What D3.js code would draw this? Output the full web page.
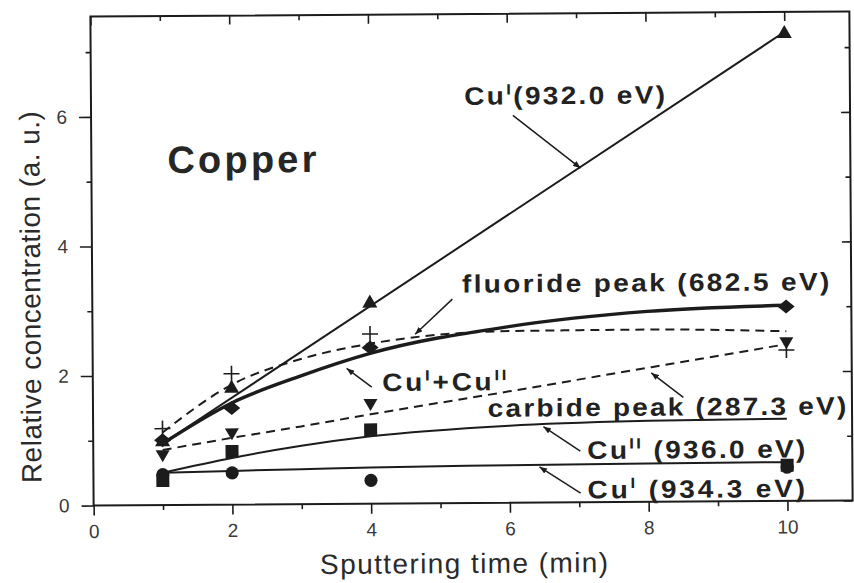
<!DOCTYPE html>
<html><head><meta charset="utf-8">
<script src="https://cdn.jsdelivr.net/npm/d3@7"></script>
<style>body{margin:0;background:#fff}svg{display:block}</style>
</head><body><svg id="c" width="854" height="583"></svg>
<script>
// ---- measured data ----
const times = [1, 2, 4, 10];
const cuI932 = [1.0, 1.82, 3.12, 7.24];      // up triangles
const fluoride = [1.0, 1.49, 2.41, 3.0];     // diamonds
const cuSum = [1.18, 2.02, 2.62, 2.33];      // crosses
const carbide = [0.77, 1.1, 1.54, 2.45];     // down triangles
const cuII936 = [0.38, 0.82, 1.14, 0.55];    // squares
const cuI934 = [0.47, 0.49, 0.36, 0.52];     // circles

// fitted curves
const lineTimes = [1, 10];
const fitCuI932 = [0.95, 7.24];
const fitTimes = [1, 2, 3, 4, 6, 8, 10];
const fitFluoride = [0.95, 1.57, 1.98, 2.32, 2.72, 2.94, 3.02];
const fitCuSum = [1.12, 1.85, 2.24, 2.47, 2.65, 2.66, 2.62];
const fitCarbide = [0.85, 1.03, 1.2, 1.38, 1.72, 2.07, 2.42];
const fitCuII = [0.5, 0.72, 0.9, 1.04, 1.19, 1.25, 1.27];
const fitCuI = [0.5, 0.52, 0.54, 0.56, 0.58, 0.59, 0.6];

const xMajor = [0, 2, 4, 6, 8, 10];
const xMinor = [1, 3, 5, 7, 9];
const yMajor = [0, 2, 4, 6];
const yMinor = [1, 3, 5, 7];

const xTitle = "Sputtering time (min)";
const yTitle = "Relative concentration (a. u.)";

// ---- layout ----
const root = d3.select("#c");
root.append("rect").attr("width", 854).attr("height", 583).attr("fill", "#fff");
const svg = root.append("g").attr("transform", "rotate(-0.38,471,258)");
const L = 92, R = 851, T = 14, B = 503;
const x = d3.scaleLinear().domain([0, 10.94]).range([L, R]);
const y = d3.scaleLinear().domain([0, 7.55]).range([B, T]);
const ink = "#1c1c1c";
const font = "'Liberation Sans', Arial, Helvetica, sans-serif";

function styleAxis(g) {
  g.select(".domain").remove();
  g.selectAll("line").attr("stroke", ink).attr("stroke-width", 1.6);
  g.selectAll("text").attr("fill", "#3a3a3a").style("font-family", font).style("font-size", "19px");
}
// bottom
svg.append("g").attr("transform", `translate(0,${B})`)
  .call(d3.axisBottom(x).tickValues(xMajor).tickSize(10).tickPadding(9).tickFormat(d3.format("d"))).call(styleAxis);
svg.append("g").attr("transform", `translate(0,${B})`)
  .call(d3.axisBottom(x).tickValues(xMinor).tickSize(5).tickFormat("")).call(styleAxis);
// top (inward)
svg.append("g").attr("transform", `translate(0,${T})`)
  .call(d3.axisTop(x).tickValues(xMajor).tickSize(-9).tickFormat("")).call(styleAxis);
svg.append("g").attr("transform", `translate(0,${T})`)
  .call(d3.axisTop(x).tickValues(xMinor).tickSize(-5).tickFormat("")).call(styleAxis);
// left
svg.append("g").attr("transform", `translate(${L},0)`)
  .call(d3.axisLeft(y).tickValues(yMajor).tickSize(12).tickPadding(12).tickFormat(d3.format("d"))).call(styleAxis);
svg.append("g").attr("transform", `translate(${L},0)`)
  .call(d3.axisLeft(y).tickValues(yMinor).tickSize(5).tickFormat("")).call(styleAxis);
// right (inward)
svg.append("g").attr("transform", `translate(${R},0)`)
  .call(d3.axisRight(y).tickValues(yMajor).tickSize(-9).tickFormat("")).call(styleAxis);
svg.append("g").attr("transform", `translate(${R},0)`)
  .call(d3.axisRight(y).tickValues(yMinor).tickSize(-5).tickFormat("")).call(styleAxis);

svg.append("rect").attr("x", L).attr("y", T).attr("width", R - L).attr("height", B - T)
  .attr("fill", "none").attr("stroke", ink).attr("stroke-width", 2);

// axis titles
function fitWidth(t, w) {
  const n = t.text().length;
  const cur = t.node().getComputedTextLength();
  if (n > 1) t.style("letter-spacing", ((w - cur) / (n - 1)) + "px");
}
const xt = svg.append("text").attr("x", 318).attr("y", 573).text(xTitle)
  .style("font-family", font).style("font-size", "28px").attr("fill", "#2a2a2a");
fitWidth(xt, 288);
const yt = svg.append("text").attr("transform", `translate(40,294) rotate(-90)`).attr("text-anchor", "middle")
  .text(yTitle).style("font-family", font).style("font-size", "28px").attr("fill", "#2a2a2a");
fitWidth(yt, 372);

// ---- fitted lines ----
const line = d3.line().x(d => x(d[0])).y(d => y(d[1]));
const curve = d3.line().x(d => x(d[0])).y(d => y(d[1])).curve(d3.curveMonotoneX);
const zip = (a, b) => a.map((v, i) => [v, b[i]]);

svg.append("path").attr("d", line(zip(lineTimes, fitCuI932))).attr("fill", "none").attr("stroke", ink).attr("stroke-width", 2);
svg.append("path").attr("d", curve(zip(fitTimes, fitFluoride))).attr("fill", "none").attr("stroke", ink).attr("stroke-width", 3.4);
svg.append("path").attr("d", curve(zip(fitTimes, fitCuSum))).attr("fill", "none").attr("stroke", ink).attr("stroke-width", 2).attr("stroke-dasharray", "9,6");
svg.append("path").attr("d", curve(zip(fitTimes, fitCarbide))).attr("fill", "none").attr("stroke", ink).attr("stroke-width", 2).attr("stroke-dasharray", "9,6");
svg.append("path").attr("d", curve(zip(fitTimes, fitCuII))).attr("fill", "none").attr("stroke", ink).attr("stroke-width", 2);
svg.append("path").attr("d", curve(zip(fitTimes, fitCuI))).attr("fill", "none").attr("stroke", ink).attr("stroke-width", 2);

// ---- markers ----
function markers(vals, pathD) {
  svg.append("g").selectAll("path").data(zip(times, vals)).join("path")
    .attr("d", pathD)
    .attr("transform", d => `translate(${x(d[0])},${y(d[1])})`)
    .attr("fill", ink);
}
markers(cuII936, "M-6.5,-6.5H6.5V6.5H-6.5Z");
markers(cuI934, d3.symbol().type(d3.symbolCircle).size(135)());
markers(carbide, "M-7,-5H7L0,7Z");
markers(fluoride, "M-8.5,0L0,-7L8.5,0L0,7Z");
markers(cuI932, "M-7.5,6L0,-7L7.5,6Z");
svg.append("g").selectAll("path").data(zip(times, cuSum)).join("path")
  .attr("d", "M-8,0H8M0,-8V8")
  .attr("transform", d => `translate(${x(d[0])},${y(d[1])})`)
  .attr("fill", "none").attr("stroke", ink).attr("stroke-width", 1.6);

// ---- labels with pointers ----
svg.append("defs").append("marker").attr("id", "arr").attr("viewBox", "0 0 10 8")
  .attr("refX", 10).attr("refY", 4).attr("markerWidth", 8).attr("markerHeight", 6)
  .attr("markerUnits", "userSpaceOnUse").attr("orient", "auto")
  .append("path").attr("d", "M0,0 L10,4 L0,8 z").attr("fill", ink);

const labels = [
  { parts: [["Cu"], ["I", true], ["(932.0 eV)"]], t: 5.38, v: 6.15, w: 2.93 },
  { parts: [["fluoride peak (682.5 eV)"]], t: 5.33, v: 3.25, w: 5.33 },
  { parts: [["Cu"], ["I", true], ["+Cu"], ["II", true]], t: 4.17, v: 1.74, w: 1.84 },
  { parts: [["carbide peak (287.3 eV)"]], t: 5.69, v: 1.33, w: 5.2 },
  { parts: [["Cu"], ["II", true], [" (936.0 eV)"]], t: 7.12, v: 0.67, w: 3.18 },
  { parts: [["Cu"], ["I", true], [" (934.3 eV)"]], t: 7.12, v: 0.06, w: 3.18 }
];
const pointers = [
  [6.08, 5.98, 7.05, 5.16],
  [5.19, 3.15, 4.65, 2.61],
  [4.02, 1.8, 3.66, 2.09],
  [8.51, 1.61, 8.05, 1.99],
  [7.02, 0.79, 6.49, 1.17],
  [7.02, 0.14, 6.43, 0.55]
];
const gx = 1.12;
labels.forEach(lb => {
  const g = svg.append("g").attr("transform", `translate(${x(lb.t)},${y(lb.v)}) scale(${gx},1)`);
  const t = g.append("text").attr("x", 0).attr("y", 0)
    .style("font-family", font).style("font-size", "25px").style("font-weight", "bold").attr("fill", "#222");
  lb.parts.forEach(p => {
    const ts = t.append("tspan").text(p[0]);
    if (p[1]) ts.style("font-size", "15px").attr("dy", -10);
    else if (t.selectAll("tspan").size() > 1) ts.attr("dy", 10);
  });
  const w = (x(lb.t + lb.w) - x(lb.t)) / gx;
  const n = t.text().length;
  let ls = (w - t.node().getBBox().width) / (n - 1);
  t.style("letter-spacing", ls + "px");
  const bw = t.node().getBBox().width;
  ls += (w - bw) / (n - 1);
  t.style("letter-spacing", ls + "px");
});
pointers.forEach(p => {
  svg.append("line").attr("x1", x(p[0])).attr("y1", y(p[1])).attr("x2", x(p[2])).attr("y2", y(p[3]))
    .attr("stroke", ink).attr("stroke-width", 1.5).attr("marker-end", "url(#arr)");
});

const cp = svg.append("text").attr("x", 168).attr("y", 171).text("Copper")
  .style("font-family", font).style("font-size", "38px").style("font-weight", "bold").attr("fill", "#262626");
fitWidth(cp, 149);
</script></body></html>
